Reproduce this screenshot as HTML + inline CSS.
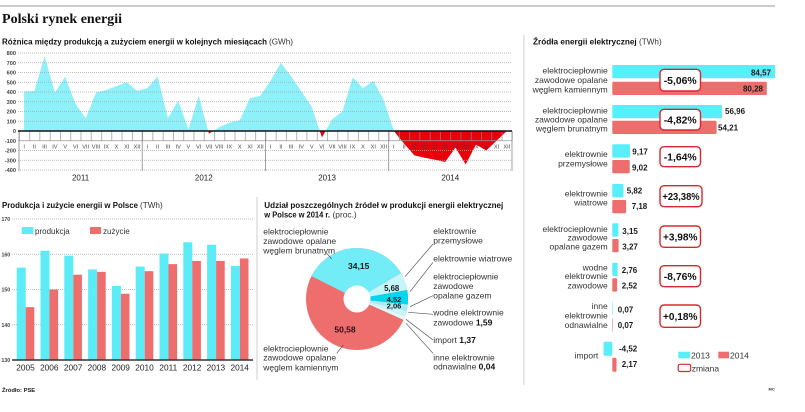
<!DOCTYPE html>
<html>
<head>
<meta charset="utf-8">
<style>
html,body{margin:0;padding:0;background:#fff;}
body{width:805px;height:412px;overflow:hidden;}
svg{display:block;font-family:"Liberation Sans",sans-serif;}
</style>
</head>
<body>
<svg width="805" height="412" viewBox="0 0 805 412" xmlns="http://www.w3.org/2000/svg">
<defs>
<pattern id="cells" x="19" y="0" width="10.27" height="20" patternUnits="userSpaceOnUse">
<rect x="0" y="0" width="0.7" height="20" fill="#8a8a8a"/>
</pattern>
<clipPath id="above"><rect x="0" y="0" width="805" height="131"/></clipPath>
<clipPath id="below"><rect x="0" y="131" width="805" height="100"/></clipPath>
</defs>

<!-- top rule -->
<rect x="0" y="5.5" width="775" height="1" fill="#9a9a9a"/>

<!-- Title -->
<text x="2" y="23" font-family="Liberation Serif, serif" font-weight="bold" font-size="14" fill="#111" textLength="120" lengthAdjust="spacingAndGlyphs">Polski rynek energii</text>

<!-- Subtitle top chart -->
<text x="2" y="44.5" font-weight="bold" font-size="8" fill="#111" textLength="265" lengthAdjust="spacingAndGlyphs">Różnica między produkcją a zużyciem energii w kolejnych miesiącach</text>
<text x="269" y="44.5" font-size="8" fill="#333" textLength="24" lengthAdjust="spacingAndGlyphs">(GWh)</text>

<!-- AREA CHART -->
<g>
<polygon clip-path="url(#above)" fill="#8ef0f9" points="24.1,131 24.1,91.51 34.37,91.03 44.64,56.41 54.91,92.49 65.18,76.69 75.45,103.7 85.72,118.33 95.99,92.49 106.26,90.05 116.53,86.15 126.8,82.25 137.07,90.83 147.34,88.1 157.61,76.4 167.88,118.33 178.15,100.78 188.42,129.34 198.69,95.9 208.96,133.63 219.23,127.1 229.5,122.62 239.77,120.28 250.04,98.14 260.31,95.9 270.58,80.79 280.85,62.75 291.12,76.4 301.39,91.51 311.66,106.63 321.93,137.34 332.2,119.3 342.47,111.5 352.74,77.38 363.01,88.1 373.28,80.79 383.55,99.8 393.82,131 404.09,143.68 414.36,155.38 424.63,157.81 434.9,159.76 445.17,162.01 455.44,147.58 465.71,164.35 475.98,144.65 486.25,150.5 496.52,140.75 506.79,131"/>
<polygon clip-path="url(#below)" fill="#e8000b" points="24.1,131 24.1,91.51 34.37,91.03 44.64,56.41 54.91,92.49 65.18,76.69 75.45,103.7 85.72,118.33 95.99,92.49 106.26,90.05 116.53,86.15 126.8,82.25 137.07,90.83 147.34,88.1 157.61,76.4 167.88,118.33 178.15,100.78 188.42,129.34 198.69,95.9 208.96,133.63 219.23,127.1 229.5,122.62 239.77,120.28 250.04,98.14 260.31,95.9 270.58,80.79 280.85,62.75 291.12,76.4 301.39,91.51 311.66,106.63 321.93,137.34 332.2,119.3 342.47,111.5 352.74,77.38 363.01,88.1 373.28,80.79 383.55,99.8 393.82,131 404.09,143.68 414.36,155.38 424.63,157.81 434.9,159.76 445.17,162.01 455.44,147.58 465.71,164.35 475.98,144.65 486.25,150.5 496.52,140.75 506.79,131"/>

<!-- gridlines -->
<g stroke="#a8a8a8" stroke-width="0.7" stroke-dasharray="1 1">
<line x1="18" y1="53" x2="512" y2="53"/>
<line x1="18" y1="62.75" x2="512" y2="62.75"/>
<line x1="18" y1="72.5" x2="512" y2="72.5"/>
<line x1="18" y1="82.25" x2="512" y2="82.25"/>
<line x1="18" y1="92" x2="512" y2="92"/>
<line x1="18" y1="101.75" x2="512" y2="101.75"/>
<line x1="18" y1="111.5" x2="512" y2="111.5"/>
<line x1="18" y1="121.25" x2="512" y2="121.25"/>
<line x1="18" y1="150.5" x2="512" y2="150.5"/>
<line x1="18" y1="160.25" x2="512" y2="160.25"/>
<line x1="18" y1="170" x2="512" y2="170"/>
</g>
<rect x="18.7" y="131" width="494" height="9.75" fill="url(#cells)" opacity="0.9"/>
<line x1="18" y1="140.75" x2="512" y2="140.75" stroke="#999" stroke-width="0.7"/>
<g stroke="#888" stroke-width="0.8">
<line x1="19" y1="131" x2="19" y2="171"/>
<line x1="142.2" y1="131" x2="142.2" y2="171"/>
<line x1="265.5" y1="131" x2="265.5" y2="171"/>
<line x1="388.7" y1="131" x2="388.7" y2="171"/>
<line x1="512" y1="131" x2="512" y2="171"/>
</g>
<line x1="18" y1="131" x2="512" y2="131" stroke="#111" stroke-width="1.4"/>

<!-- y labels -->
<g font-size="5.6" font-weight="bold" fill="#444" text-anchor="end">
<text x="16" y="55">800</text>
<text x="16" y="64.8">700</text>
<text x="16" y="74.5">600</text>
<text x="16" y="84.3">500</text>
<text x="16" y="94">400</text>
<text x="16" y="103.8">300</text>
<text x="16" y="113.5">200</text>
<text x="16" y="123.3">100</text>
<text x="16" y="133">0</text>
<text x="16" y="142.8">-100</text>
<text x="16" y="152.5">-200</text>
<text x="16" y="162.3">-300</text>
<text x="16" y="172">-400</text>
</g>

<!-- month labels -->
<g font-size="5.6" fill="#444" text-anchor="middle">
<text x="24.1" y="148.5">I</text><text x="34.4" y="148.5">II</text><text x="44.6" y="148.5">III</text><text x="54.9" y="148.5">IV</text><text x="65.2" y="148.5">V</text><text x="75.5" y="148.5">VI</text><text x="85.7" y="148.5">VII</text><text x="96" y="148.5">VIII</text><text x="106.3" y="148.5">IX</text><text x="116.5" y="148.5">X</text><text x="126.8" y="148.5">XI</text><text x="137.1" y="148.5">XII</text>
<text x="147.3" y="148.5">I</text><text x="157.6" y="148.5">II</text><text x="167.9" y="148.5">III</text><text x="178.2" y="148.5">IV</text><text x="188.4" y="148.5">V</text><text x="198.7" y="148.5">VI</text><text x="209" y="148.5">VII</text><text x="219.2" y="148.5">VIII</text><text x="229.5" y="148.5">IX</text><text x="239.8" y="148.5">X</text><text x="250" y="148.5">XI</text><text x="260.3" y="148.5">XII</text>
<text x="270.6" y="148.5">I</text><text x="280.9" y="148.5">II</text><text x="291.1" y="148.5">III</text><text x="301.4" y="148.5">IV</text><text x="311.7" y="148.5">V</text><text x="321.9" y="148.5">VI</text><text x="332.2" y="148.5">VII</text><text x="342.5" y="148.5">VIII</text><text x="352.7" y="148.5">IX</text><text x="363" y="148.5">X</text><text x="373.3" y="148.5">XI</text><text x="383.6" y="148.5">XII</text>
<text x="393.8" y="148.5">I</text><text x="404.1" y="148.5">II</text><text x="414.4" y="148.5">III</text><text x="424.6" y="148.5">IV</text><text x="434.9" y="148.5">V</text><text x="445.2" y="148.5">VI</text><text x="455.4" y="148.5">VII</text><text x="465.7" y="148.5">VIII</text><text x="476" y="148.5">IX</text><text x="486.3" y="148.5">X</text><text x="496.5" y="148.5">XI</text><text x="506.8" y="148.5">XII</text>
</g>
<g font-size="8" fill="#222" text-anchor="middle">
<text x="80.6" y="180.5">2011</text>
<text x="203.8" y="180.5">2012</text>
<text x="327.1" y="180.5">2013</text>
<text x="450.3" y="180.5">2014</text>
</g>
</g>

<!-- separators -->
<rect x="523.5" y="35" width="0.8" height="350" fill="#c4c4c4"/>
<rect x="256.6" y="197" width="0.8" height="183" fill="#c4c4c4"/>

<!-- BAR CHART -->
<text x="2" y="208" font-weight="bold" font-size="8" fill="#111" textLength="136" lengthAdjust="spacingAndGlyphs">Produkcja i zużycie energii w Polsce</text>
<text x="140" y="208" font-size="8" fill="#333" textLength="22.7" lengthAdjust="spacingAndGlyphs">(TWh)</text>
<g stroke="#a8a8a8" stroke-width="0.7" stroke-dasharray="1 1">
<line x1="12" y1="219" x2="253" y2="219"/>
<line x1="12" y1="254.25" x2="253" y2="254.25"/>
<line x1="12" y1="289.5" x2="253" y2="289.5"/>
<line x1="12" y1="324.75" x2="253" y2="324.75"/>
</g>
<g font-size="5.2" fill="#444" font-weight="bold">
<text x="1.5" y="221">170</text>
<text x="1.5" y="256.3">160</text>
<text x="1.5" y="291.5">150</text>
<text x="1.5" y="326.8">140</text>
<text x="1.5" y="362">130</text>
</g>
<rect x="21.7" y="227" width="11.6" height="7" fill="#5cecf8"/>
<text x="35" y="233.8" font-size="8" fill="#333">produkcja</text>
<rect x="90" y="227" width="11" height="7" fill="#ee6d6d"/>
<text x="103" y="233.8" font-size="8" fill="#333">zużycie</text>
<g fill="#5cecf8">
<rect x="16.7" y="267.64" width="9" height="92.36"/>
<rect x="40.5" y="250.72" width="9" height="109.28"/>
<rect x="64.3" y="255.66" width="9" height="104.34"/>
<rect x="88.1" y="269.41" width="9" height="90.59"/>
<rect x="111.9" y="285.97" width="9" height="74.03"/>
<rect x="135.7" y="266.59" width="9" height="93.41"/>
<rect x="159.5" y="253.54" width="9" height="106.46"/>
<rect x="183.3" y="242.26" width="9" height="117.74"/>
<rect x="207.1" y="244.73" width="9" height="115.27"/>
<rect x="230.9" y="265.88" width="9" height="94.12"/>
</g>
<g fill="#ee6d6d">
<rect x="25.7" y="307.12" width="8.6" height="52.88"/>
<rect x="49.5" y="289.5" width="8.6" height="70.5"/>
<rect x="73.3" y="274.69" width="8.6" height="85.31"/>
<rect x="97.1" y="271.87" width="8.6" height="88.13"/>
<rect x="120.9" y="293.73" width="8.6" height="66.27"/>
<rect x="144.7" y="271.17" width="8.6" height="88.83"/>
<rect x="168.5" y="264.12" width="8.6" height="95.88"/>
<rect x="192.3" y="260.95" width="8.6" height="99.05"/>
<rect x="216.1" y="260.95" width="8.6" height="99.05"/>
<rect x="239.9" y="258.48" width="8.6" height="101.52"/>
</g>
<line x1="12" y1="360" x2="253" y2="360" stroke="#333" stroke-width="1.5"/>
<g font-size="8.3" fill="#222" text-anchor="middle">
<text x="25.5" y="370.5">2005</text>
<text x="49.3" y="370.5">2006</text>
<text x="73.1" y="370.5">2007</text>
<text x="96.9" y="370.5">2008</text>
<text x="120.7" y="370.5">2009</text>
<text x="144.5" y="370.5">2010</text>
<text x="168.3" y="370.5">2011</text>
<text x="192.1" y="370.5">2012</text>
<text x="215.9" y="370.5">2013</text>
<text x="239.7" y="370.5">2014</text>
</g>
<text x="2" y="392" font-size="5.8" font-weight="bold" fill="#222">Źródło: PSE</text>

<!-- DONUT -->
<text x="264.3" y="208" font-weight="bold" font-size="8" fill="#111" textLength="239" lengthAdjust="spacingAndGlyphs">Udział poszczególnych źródeł w produkcji energii elektrycznej</text>
<text x="264.3" y="217.3" font-weight="bold" font-size="8" fill="#111" textLength="65.7" lengthAdjust="spacingAndGlyphs">w Polsce w 2014 r.</text>
<text x="332.5" y="217.3" font-size="8" fill="#333" textLength="24.2" lengthAdjust="spacingAndGlyphs">(proc.)</text>

<circle cx="357" cy="299" r="51" fill="#ee6d6d"/>
<path d="M357,299 L311.4,276.16 A51,51 0 0 1 400.94,273.12 Z" fill="#72ecf7"/>
<path d="M357,299 L400.94,273.12 A51,51 0 0 1 407.21,290.06 Z" fill="#c4f6fb"/>
<path d="M357,299 L407.21,290.06 A51,51 0 0 1 407.7,304.51 Z" fill="#00d6ef"/>
<path d="M357,299 L407.7,304.51 A51,51 0 0 1 406.57,310.99 Z" fill="#a2eef8"/>
<path d="M357,299 L406.57,310.99 A51,51 0 0 1 405.13,315.86 Z" fill="#c9f6fb"/>
<path d="M357,299 L405.13,315.86 A51,51 0 0 1 403.52,319.9 Z" fill="#def9fc"/>
<circle cx="357" cy="299" r="13.5" fill="#fff"/>

<g font-weight="bold" fill="#1a1a1a" text-anchor="middle">
<text x="358.7" y="269" font-size="8.5">34,15</text>
<text x="345" y="332.3" font-size="8.5">50,58</text>
<text x="391.7" y="291.2" font-size="7.8">5,68</text>
<text x="394" y="301.8" font-size="7.6">4,52</text>
<text x="394" y="308.6" font-size="7.6">2,06</text>
</g>

<g font-size="8.5" fill="#333">
<text x="263.3" y="234.7">elektrociepłownie</text>
<text x="263.3" y="244">zawodowe opalane</text>
<text x="263.3" y="253.7">węglem brunatnym</text>
<text x="263.3" y="351.3">elektrociepłownie</text>
<text x="263.3" y="360.7">zawodowe opalane</text>
<text x="263.3" y="370.3">węglem kamiennym</text>

<text x="433.3" y="234">elektrownie</text>
<text x="433.3" y="243.7">przemysłowe</text>
<text x="433.3" y="261.3">elektrownie wiatrowe</text>
<text x="433.3" y="279.7">elektrociepłownie</text>
<text x="433.3" y="289">zawodowe</text>
<text x="433.3" y="298.3">opalane gazem</text>
<text x="433.3" y="315.7">wodne elektrownie</text>
<text x="433.3" y="325.7">zawodowe <tspan font-weight="bold" fill="#111">1,59</tspan></text>
<text x="433.3" y="343">import <tspan font-weight="bold" fill="#111">1,37</tspan></text>
<text x="433.3" y="360.3">inne elektrownie</text>
<text x="433.3" y="369.7">odnawialne <tspan font-weight="bold" fill="#111">0,04</tspan></text>
</g>
<g stroke="#555" stroke-width="0.7" fill="none">
<line x1="326.7" y1="253.3" x2="331.7" y2="259"/>
<line x1="336.7" y1="353.3" x2="343.3" y2="345"/>
<line x1="433" y1="244" x2="405" y2="276.7"/>
<line x1="433" y1="262.3" x2="410" y2="291.7"/>
<line x1="433" y1="295.7" x2="410" y2="306.7"/>
<line x1="433" y1="314.3" x2="408.3" y2="312.3"/>
<line x1="433" y1="340" x2="406" y2="319.3"/>
<line x1="433" y1="353.3" x2="406" y2="323.3"/>
</g>

<!-- RIGHT PANEL -->
<text x="533" y="44.5" font-weight="bold" font-size="8" fill="#111" textLength="103.7" lengthAdjust="spacingAndGlyphs">Źródła energii elektrycznej</text>
<text x="639" y="44.5" font-size="8" fill="#333" textLength="22.7" lengthAdjust="spacingAndGlyphs">(TWh)</text>

<g fill="#58eefa">
<rect x="612.3" y="65" width="162.7" height="13.3" rx="1"/>
<rect x="612.3" y="105" width="109.6" height="13.3" rx="1"/>
<rect x="612.3" y="144.3" width="17.6" height="13.3" rx="1"/>
<rect x="612.3" y="184" width="11.2" height="13.3" rx="1"/>
<rect x="612.3" y="223.3" width="6.1" height="13.3" rx="1"/>
<rect x="612.3" y="262.7" width="5.3" height="13.3" rx="1"/>
<rect x="612.3" y="301.7" width="0.5" height="13.3"/>
<rect x="603.6" y="341.7" width="8.7" height="14" rx="1"/>
</g>
<g fill="#ee6d6d">
<rect x="612.3" y="81.7" width="154.5" height="13.3" rx="1"/>
<rect x="612.3" y="120.7" width="104.3" height="13.3" rx="1"/>
<rect x="612.3" y="160" width="17.4" height="13.3" rx="1"/>
<rect x="612.3" y="200" width="13.8" height="13.3" rx="1"/>
<rect x="612.3" y="239" width="6.3" height="13.3" rx="1"/>
<rect x="612.3" y="278.3" width="4.8" height="13.3" rx="1"/>
<rect x="612.3" y="318.3" width="0.5" height="13.3"/>
<rect x="612.3" y="357.7" width="4.2" height="14" rx="1"/>
</g>

<g font-size="8" font-weight="bold" fill="#1a1a1a">
<text x="771" y="75.7" text-anchor="end">84,57</text>
<text x="763" y="91.3" text-anchor="end">80,28</text>
<text x="725" y="114">56,96</text>
<text x="718" y="130.7">54,21</text>
<text x="632.3" y="154.7">9,17</text>
<text x="632" y="170.7">9,02</text>
<text x="626.7" y="193.7">5,82</text>
<text x="631.7" y="209">7,18</text>
<text x="622.3" y="234">3,15</text>
<text x="622.3" y="249.7">3,27</text>
<text x="621.7" y="273">2,76</text>
<text x="621.7" y="288.7">2,52</text>
<text x="617.7" y="312.3">0,07</text>
<text x="617.7" y="328">0,07</text>
<text x="619" y="351.3">-4,52</text>
<text x="621.7" y="367">2,17</text>
</g>

<g font-size="8.5" fill="#333" text-anchor="end">
<text x="607.7" y="73.7">elektrociepłownie</text>
<text x="607.7" y="83">zawodowe opalane</text>
<text x="607.7" y="92.3">węglem kamiennym</text>
<text x="607.7" y="113.7">elektrociepłownie</text>
<text x="607.7" y="122.3">zawodowe opalane</text>
<text x="607.7" y="131.7">węglem brunatnym</text>
<text x="607.7" y="157">elektrownie</text>
<text x="607.7" y="166.3">przemysłowe</text>
<text x="607.7" y="196.3">elektrownie</text>
<text x="607.7" y="205.7">wiatrowe</text>
<text x="607.7" y="232">elektrociepłownie</text>
<text x="607.7" y="240.7">zawodowe</text>
<text x="607.7" y="249.7">opalane gazem</text>
<text x="607.7" y="270.3">wodne</text>
<text x="607.7" y="279">elektrownie</text>
<text x="607.7" y="288.7">zawodowe</text>
<text x="607.7" y="309">inne</text>
<text x="607.7" y="318.7">elektrownie</text>
<text x="607.7" y="328">odnawialne</text>
<text x="598.3" y="358.7">import</text>
</g>

<g fill="#fff" stroke="#d8282c" stroke-width="1.4">
<rect x="660" y="69.3" width="40.5" height="21.7" rx="4"/>
<rect x="660" y="109.3" width="40.5" height="20.7" rx="4"/>
<rect x="660" y="146.7" width="40.5" height="20" rx="4"/>
<rect x="660" y="185.7" width="42" height="21" rx="4"/>
<rect x="660" y="226" width="40.5" height="21.3" rx="4"/>
<rect x="660" y="265.7" width="40.5" height="21" rx="4"/>
<rect x="660" y="305" width="40.5" height="22.3" rx="4"/>
</g>
<g font-size="10.5" font-weight="bold" fill="#111" text-anchor="middle">
<text x="680.2" y="84" textLength="33" lengthAdjust="spacingAndGlyphs">-5,06%</text>
<text x="680.2" y="123.5" textLength="33" lengthAdjust="spacingAndGlyphs">-4,82%</text>
<text x="680.2" y="160.5" textLength="33" lengthAdjust="spacingAndGlyphs">-1,64%</text>
<text x="681" y="200" textLength="37.3" lengthAdjust="spacingAndGlyphs">+23,38%</text>
<text x="680.2" y="240.5" textLength="34.5" lengthAdjust="spacingAndGlyphs">+3,98%</text>
<text x="680.2" y="280" textLength="33" lengthAdjust="spacingAndGlyphs">-8,76%</text>
<text x="680.2" y="320" textLength="34.5" lengthAdjust="spacingAndGlyphs">+0,18%</text>
</g>

<!-- legend -->
<rect x="678.3" y="351.7" width="11.7" height="6.6" fill="#58eefa"/>
<text x="691" y="358.3" font-size="8.5" fill="#333">2013</text>
<rect x="718.3" y="351.7" width="10.7" height="6.6" fill="#ee6d6d"/>
<text x="730" y="358.3" font-size="8.5" fill="#333">2014</text>
<rect x="678.2" y="364.3" width="12.5" height="7.2" rx="1.8" fill="#fff" stroke="#d8282c" stroke-width="1.2"/>
<text x="691.7" y="371.3" font-size="8.5" fill="#333">zmiana</text>
<text x="768.5" y="390.5" font-size="4" font-weight="bold" fill="#333">MC</text>
</svg>
</body>
</html>
